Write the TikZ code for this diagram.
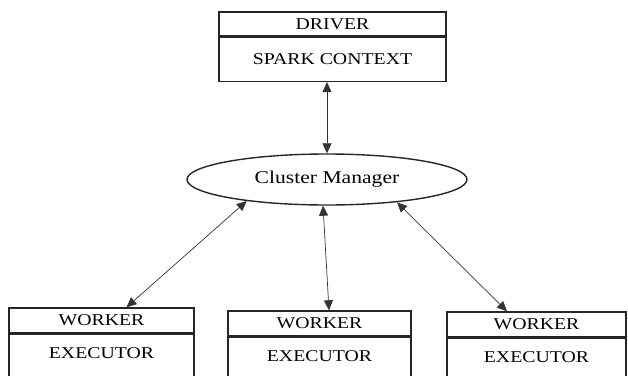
\documentclass[tikz,border=0pt]{standalone}
\usepackage{fontspec}
\setmainfont{Liberation Serif}[FakeStretch=1.2]
\usetikzlibrary{shapes.geometric, arrows.meta, positioning}
\tikzset{
  titlebox/.style={draw=black!85, line width=1.4pt, minimum width=#1, minimum height=25pt,
                   inner sep=0pt, font=\fontsize{16.5}{18}\selectfont},
  bodybox/.style={draw=black!85, line width=1.4pt, minimum width=#1, inner sep=0pt,
                  text height=24pt, text depth=40pt, font=\fontsize{16.5}{18}\selectfont},
  cmnode/.style={draw=black!85, line width=1.4pt, ellipse, minimum width=280pt,
                 minimum height=51pt, inner sep=0pt, font=\fontsize{18}{20}\selectfont},
  link/.style={{Triangle[length=10pt,width=9pt]}-{Triangle[length=10pt,width=9pt]},
               line width=0.7pt, draw=black!80},
}

\begin{document}
\begin{tikzpicture}[x=1pt, y=-1pt]
\useasboundingbox (0,0) rectangle (628,375);
\clip (0,0) rectangle (628,375);
% driver
\node[titlebox=227pt, minimum height=24pt] (driver) at (332.5,24) {DRIVER};
\node[titlebox=227pt, minimum height=44pt, below=0pt of driver] (spark) {SPARK CONTEXT};
% cluster manager
\node[cmnode] (cm) at (327,179.5) {Cluster Manager};
% workers
\node[titlebox=185pt] (w1) at (101.5,320.5) {WORKER};
\node[bodybox=185pt, below=0pt of w1] (e1) {EXECUTOR};
\node[titlebox=183pt] (w2) at (319.5,323.5) {WORKER};
\node[bodybox=183pt, below=0pt of w2] (e2) {EXECUTOR};
\node[titlebox=179pt] (w3) at (536.5,324.5) {WORKER};
\node[bodybox=179pt, below=0pt of w3] (e3) {EXECUTOR};
% links
\draw[link] (spark.south -| cm.north) -- (cm.north);
\draw[link] (cm.195) -- ([xshift=25pt]w1.north);
\draw[link] ([xshift=-4pt]cm.south) -- ([xshift=9.5pt]w2.north);
\draw[link] (cm.342) -- ([xshift=-29.5pt]w3.north);
\end{tikzpicture}
\end{document}
